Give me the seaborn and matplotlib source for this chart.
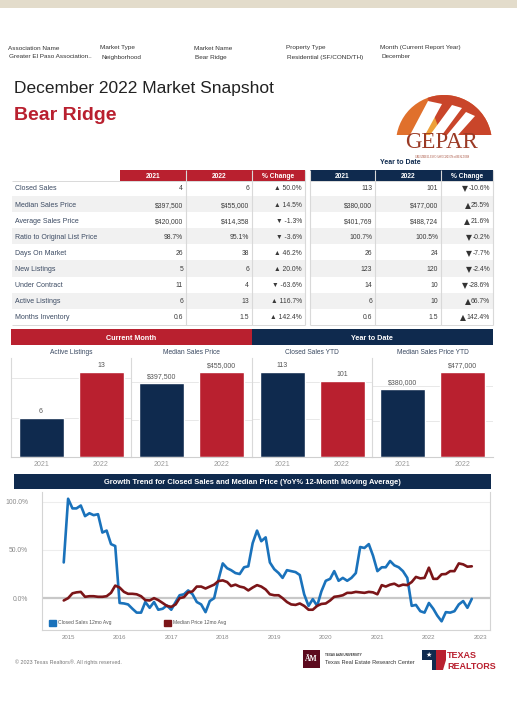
import matplotlib
matplotlib.use("Agg")
import matplotlib.pyplot as plt
import matplotlib.dates as mdates
from matplotlib.patches import Rectangle, Wedge, Polygon, Patch
from matplotlib.ticker import MaxNLocator, FuncFormatter
import numpy as np
import pandas as pd
import seaborn as sns

# colours
NAVY = "#0f2a4e"
RED = "#b9202f"
BLUE = "#1a72bb"
MAROON = "#7b1518"
SHADE = "#f1f1f1"
GRID = "#d9d9d9"
LABEL = "#3b4a62"
VALUE = "#3a3a3a"

W, H = 517, 720

# header info
HEADER_KEYS = ["Association Name", "Market Type", "Market Name", "Property Type",
               "Month (Current Report Year)"]
HEADER_VALUES = ["Greater El Paso Association..", "Neighborhood", "Bear Ridge",
                 "Residential (SF/COND/TH)", "December"]

# snapshot table
TABLE_ROWS = ["Closed Sales", "Median Sales Price", "Average Sales Price",
              "Ratio to Original List Price", "Days On Market", "New Listings",
              "Under Contract", "Active Listings", "Months Inventory"]
TABLE_YEARS = ["2021", "2022", "% Change"]
MONTH_2021 = ["4", "$397,500", "$420,000", "98.7%", "26", "5", "11", "6", "0.6"]
MONTH_2022 = ["6", "$455,000", "$414,358", "95.1%", "38", "6", "4", "13", "1.5"]
MONTH_CHANGE = ["▲ 50.0%", "▲ 14.5%", "▼ -1.3%", "▼ -3.6%", "▲ 46.2%", "▲ 20.0%",
                "▼ -63.6%", "▲ 116.7%", "▲ 142.4%"]
YTD_2021 = ["113", "$380,000", "$401,769", "100.7%", "26", "123", "14", "6", "0.6"]
YTD_2022 = ["101", "$477,000", "$488,724", "100.5%", "24", "120", "10", "10", "1.5"]
YTD_ARROW = ["▼", "▲", "▲", "▼", "▼", "▼", "▼", "▲", "▲"]
YTD_CHANGE = ["-10.6%", "25.5%", "21.6%", "-0.2%", "-7.7%", "-2.4%",
              "-28.6%", "66.7%", "142.4%"]

# bar panels
BAR_PANELS = ["Active Listings", "Median Sales Price", "Closed Sales YTD",
              "Median Sales Price YTD"]
BAR_YEARS = ["2021", "2022"]
BAR_2021 = [6, 397500, 113, 380000]
BAR_2022 = [13, 455000, 101, 477000]
BAR_TEXT_2021 = ["6", "$397,500", "113", "$380,000"]
BAR_TEXT_2022 = ["13", "$455,000", "101", "$477,000"]

# growth trend, monthly from Dec 2014 (YoY %, 12-month moving average)
TREND_START = "2014-12-01"
CLOSED_SALES_YOY = [
    37, 103, 93, 93, 96, 85, 88, 86, 87, 68, 70, 56, 54,
    -5, -5.5, -6.5, -11, -15, -15, -4, -10, -4, -12, -11, -7.6, -12,
    -4, 3, 4, 8, 4, -4, -6.5, -14.5, -3, 0, 19, 36, 31, 29, 26, 25,
    32, 33, 57, 70, 59, 63, 37, 30, 26, 21, 29, 28, 27, 24,
    4, -8, -1, -8, 7, 18, 20, 28, 18, 21, 18, 21, 26, 53, 52, 56,
    44, 28, 32, 32, 38.5, 34, 32, 28, 21, -8, -7, -13.5, -15, -5, -11, -18,
    -24, -14.5, -15, -13.5, -6.5, -3, -10, -0.7,
]
MEDIAN_PRICE_YOY = [
    -2.4, 0, 5, 6, 6.5, 1.4, 2, 2, 1.4, 1.4, 2, 5.5, 13,
    11, 6.5, 4.5, 4.5, 4, 2, -2, -2.4, 0, -2, -5, -8, -9,
    -6.5, 0, 1, 6, 7, 12, 12, 10, 12, 14, 17.7, 18.4, 16.7, 12.5, 14, 12,
    11, 8, 11, 13.5, 12, 9, 4, 3, 3, 0, -4, -6.5, -7, -5.5,
    -8, -12, -12, -8, -6, -5.5, -2.4, 1.4, 2, 3, 5.5, 5.5, 6.5, 6, 5.5, 6.5,
    6, 4, 13.5, 12, 14, 15, 12.5, 14, 13.5, 16.7, 22, 20.5, 21, 31.6, 20, 20,
    24.7, 25, 28, 28, 36, 35, 32.6, 33,
]
TREND_YEARS = list(range(2015, 2024))


def px_axes(fig, x0, y0, x1, y1):
    """axes placed by a pixel box measured from the top-left corner"""
    return fig.add_axes([x0 / W, 1 - y1 / H, (x1 - x0) / W, (y1 - y0) / H])


sns.set_theme(style="white")
plt.rcParams["font.family"] = ["Liberation Sans", "DejaVu Sans"]

fig = plt.figure(figsize=(W / 100, H / 100), dpi=100)
fig.patch.set_facecolor("white")

bg = px_axes(fig, 0, 0, W, H)
bg.set_xlim(0, W)
bg.set_ylim(H, 0)
bg.axis("off")

# top band
bg.add_patch(Rectangle((0, 0), W, 8, color="#e3dccb", lw=0))

# header info
for xk, key, val in zip([8, 100, 194, 286, 380], HEADER_KEYS, HEADER_VALUES):
    bg.text(xk, 49.5, key, fontsize=4.6, color="#333333", va="baseline")
    bg.text(xk + 1, 58.5, val, fontsize=4.6, color="#333333", va="baseline")

bg.text(14, 88, "December 2022 Market Snapshot", fontsize=12.5, color="#222222",
        va="center")
bg.text(14, 116, "Bear Ridge", fontsize=14, color=RED, fontweight="bold",
        va="center")

# GEPAR logo
bg.add_patch(Wedge((444, 143), 48, 180, 360, color="#e0702c", lw=0))
bg.add_patch(Wedge((444, 143), 48, 250, 360, color="#c9452a", lw=0))
bg.add_patch(Wedge((444, 143), 30, 180, 250, color="#eda03a", lw=0))
bg.add_patch(Polygon([(410, 135), (428, 101), (442, 104), (425, 135)],
                     color="white", lw=0))
bg.add_patch(Polygon([(430, 135), (452, 105), (462, 108), (442, 135)],
                     color="white", lw=0))
bg.add_patch(Polygon([(447, 135), (466, 112), (475, 116), (458, 135)],
                     color="white", lw=0))
bg.add_patch(Rectangle((390, 135), 110, 10, color="white", lw=0))
bg.text(442, 143, "GEPAR", fontsize=16.5, family="Liberation Serif",
        color="#9b3a25", ha="center", va="center")
bg.text(442, 156.5, "GREATER EL PASO ASSOCIATION of REALTORS", fontsize=1.8,
        family="Liberation Serif", color="#9b3a25", ha="center", va="center")
bg.text(380, 162, "Year to Date", fontsize=5, color=NAVY, fontweight="bold",
        va="center")

# snapshot tables
row_y0, row_h = 188, 16.1
FS = 4.9
TV = "center_baseline"
month_edges = [120, 186, 252, 305]
ytd_edges = [310, 375, 441, 493]
for edges, head_col, shade_x0 in [(month_edges, RED, 12), (ytd_edges, NAVY, 310)]:
    for i in range(len(TABLE_ROWS)):
        if i % 2 == 1:
            yc = row_y0 + i * row_h
            bg.add_patch(Rectangle((shade_x0, yc - row_h / 2), edges[-1] - shade_x0,
                                   row_h, color=SHADE, lw=0))
    for j, year in enumerate(TABLE_YEARS):
        bg.add_patch(Rectangle((edges[j], 170), edges[j + 1] - edges[j], 11,
                               color=head_col, lw=0))
        bg.text((edges[j] + edges[j + 1]) / 2, 175.5, year, fontsize=4.8,
                color="white", fontweight="bold", ha="center", va=TV)
    bg.hlines([181, 325], shade_x0, edges[-1], color=GRID, lw=0.7)
    seps = edges[1:] if head_col == RED else edges
    bg.vlines(seps, 170, 325, color=GRID, lw=0.8)

for i, label in enumerate(TABLE_ROWS):
    yc = row_y0 + i * row_h
    bg.text(15, yc, label, fontsize=5.0, color=LABEL, va=TV)
    for col, x in zip([MONTH_2021, MONTH_2022, MONTH_CHANGE], month_edges[1:]):
        bg.text(x - 3, yc, col[i], fontsize=FS, color=VALUE, ha="right", va=TV)
    for col, x in zip([YTD_2021, YTD_2022], ytd_edges[1:3]):
        bg.text(x - 3, yc, col[i], fontsize=FS, color=VALUE, ha="right", va=TV)
    num = bg.text(ytd_edges[3] - 3, yc, YTD_CHANGE[i], fontsize=FS, color=VALUE,
                  ha="right", va=TV)
    bg.annotate(YTD_ARROW[i], xy=(-0.02, 0.5), xycoords=num, ha="right",
                va="center", fontsize=5.6, color="#333333",
                family=["DejaVu Sans"])

# bar section banners
bg.add_patch(Rectangle((11, 329), 241, 16, color=RED, lw=0))
bg.add_patch(Rectangle((252, 329), 241, 16, color=NAVY, lw=0))
bg.text(131, 337, "Current Month", fontsize=5.2, color="white",
        fontweight="bold", ha="center", va=TV)
bg.text(372, 337, "Year to Date", fontsize=5.2, color="white",
        fontweight="bold", ha="center", va=TV)

panel_edges = [11, 131, 252, 372, 493]
for k, title in enumerate(BAR_PANELS):
    x0, x1 = panel_edges[k], panel_edges[k + 1]
    bg.text((x0 + x1) / 2, 352, title, fontsize=4.8, color=LABEL,
            ha="center", va=TV)
    ax = px_axes(fig, x0, 358, x1, 457)
    ax.patch.set_alpha(0)
    df = pd.DataFrame({"year": BAR_YEARS, "value": [BAR_2021[k], BAR_2022[k]]})
    sns.barplot(data=df, x="year", y="value", hue="year",
                palette=[NAVY, RED], saturation=1, width=0.75,
                legend=False, ax=ax)
    top = max(BAR_2021[k], BAR_2022[k]) / 0.86
    ax.set_ylim(0, top)
    ax.set_xlim(-0.5, 1.5)
    ax.yaxis.set_major_locator(MaxNLocator(3))
    ax.yaxis.grid(True, color="#e8e8e8", lw=0.7)
    ax.set_axisbelow(True)
    ax.set_yticklabels([])
    ax.set_xlabel("")
    ax.set_ylabel("")
    ax.tick_params(axis="both", length=0)
    ax.tick_params(axis="x", labelsize=5, labelcolor="#999999", pad=3)
    ax.tick_params(axis="y", pad=0)
    for side in ["top", "right"]:
        ax.spines[side].set_visible(False)
    ax.spines["left"].set_color(GRID)
    ax.spines["left"].set_linewidth(0.8)
    ax.spines["bottom"].set_color("#cfcfcf")
    ax.spines["bottom"].set_linewidth(0.8)
    bars = sorted(ax.patches, key=lambda p: p.get_x())
    for bar, lab in zip(bars, [BAR_TEXT_2021[k], BAR_TEXT_2022[k]]):
        ax.annotate(lab, (bar.get_x() + bar.get_width() / 2, bar.get_height()),
                    xytext=(0, 2), textcoords="offset points", ha="center",
                    va="bottom", fontsize=5, color="#555555")

# growth trend
bg.add_patch(Rectangle((14, 474), 477, 15, color=NAVY, lw=0))
bg.text(252, 481.5,
        "Growth Trend for Closed Sales and Median Price (YoY% 12-Month Moving Average)",
        fontsize=5.4, color="white", fontweight="bold", ha="center", va=TV)

dates = pd.date_range(TREND_START, periods=len(CLOSED_SALES_YOY), freq="MS")
trend = pd.DataFrame({"date": dates,
                      "Closed Sales 12mo Avg": CLOSED_SALES_YOY,
                      "Median Price 12mo Avg": MEDIAN_PRICE_YOY})
long = trend.melt("date", var_name="series", value_name="yoy")

lax = px_axes(fig, 42, 492, 490, 630)
lax.patch.set_alpha(0)
sns.lineplot(data=long, x="date", y="yoy", hue="series",
             palette=[BLUE, MAROON], linewidth=1.9, legend=False, ax=lax)
lax.set_xlim(pd.Timestamp("2014-06-30"), pd.Timestamp("2023-03-10"))
lax.set_ylim(-33, 110)
lax.set_yticks([0, 50, 100])
lax.yaxis.set_major_formatter(FuncFormatter(lambda v, p: f"{v:.1f}%"))
lax.yaxis.grid(True, color="#ededed", lw=0.8)
lax.axhline(0, color="#c8c8c8", lw=1.6, zorder=1)
lax.set_axisbelow(True)
lax.set_xticks([pd.Timestamp(f"{y}-01-01") for y in TREND_YEARS])
lax.xaxis.set_major_formatter(mdates.DateFormatter("%Y"))
lax.set_xlabel("")
lax.set_ylabel("")
lax.tick_params(axis="y", length=0, labelsize=4.9, labelcolor="#8a8a8a", pad=10)
lax.tick_params(axis="x", length=2.5, width=0.7, color="#bdbdbd", labelsize=4.4,
                labelcolor="#8a8a8a", pad=1)
lax.spines["top"].set_visible(False)
for side in ["left", "right", "bottom"]:
    lax.spines[side].set_color("#d4d4d4")
    lax.spines[side].set_linewidth(0.8)
handles = [Patch(color=BLUE, label="Closed Sales 12mo Avg"),
           Patch(color=MAROON, label="Median Price 12mo Avg")]
lax.legend(handles=handles, loc="lower left", ncol=2, frameon=False,
           fontsize=3.6, handlelength=1.4, handleheight=1.4, handletextpad=0.4,
           columnspacing=10.5, bbox_to_anchor=(0.005, 0.0), labelcolor="#555555")

# footer
bg.text(15, 662, "© 2023 Texas Realtors®. All rights reserved.", fontsize=3.9,
        color="#777777", va=TV)
bg.add_patch(Rectangle((303, 650), 17, 18, color="#5c0a1e", lw=0))
bg.text(311.5, 659, "ĀM", fontsize=5.5, color="white", fontweight="bold",
        family="Liberation Serif", ha="center", va="center")
bg.text(325, 655, "TEXAS A&M UNIVERSITY", fontsize=2.2, color="#333333",
        fontweight="bold", va=TV)
bg.text(325, 662, "Texas Real Estate Research Center", fontsize=4.1,
        color="#333333", va=TV)
bg.add_patch(Polygon([(422, 650), (442, 650), (442, 670), (432, 670),
                      (432, 660), (422, 660)], color=NAVY, lw=0))
bg.text(429, 655, "★", fontsize=5, color="white", ha="center", va="center",
        family=["DejaVu Sans"])
bg.add_patch(Polygon([(436, 650), (446, 650), (446, 660), (443, 670), (436, 670)],
                     color=RED, lw=0))
bg.text(447, 655, "TEXAS", fontsize=6.5, color=RED, fontweight="bold",
        va=TV)
bg.text(447, 665.5, "REALTORS", fontsize=6.5, color=RED, fontweight="bold",
        va=TV)

fig.savefig("out.png", dpi=100, facecolor="white")
plt.close(fig)
